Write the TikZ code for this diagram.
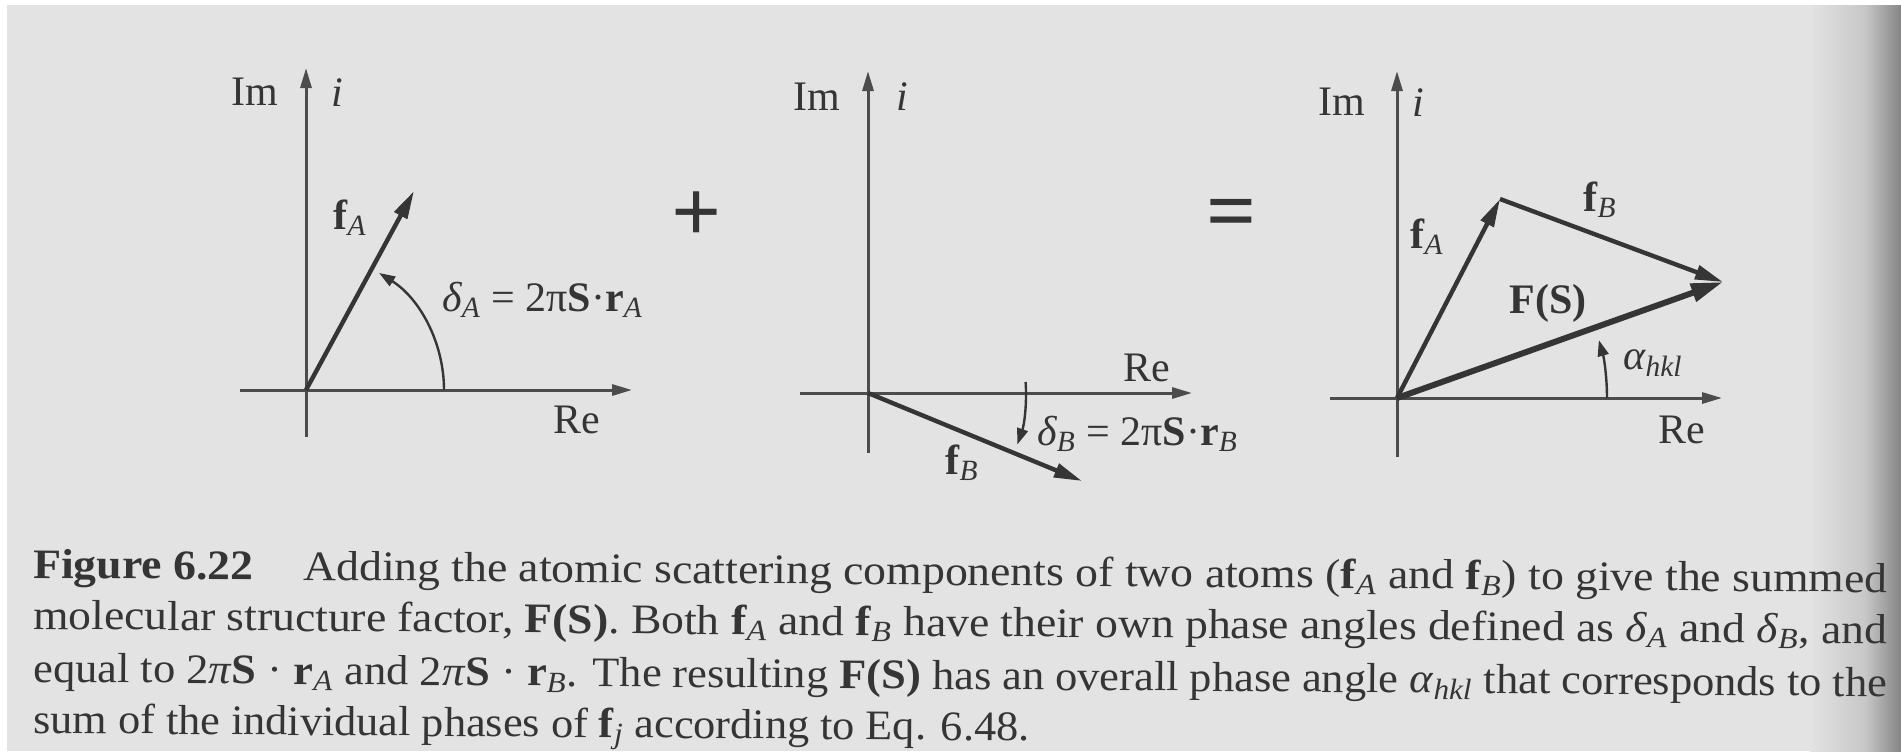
\documentclass[tikz,border=0pt]{standalone}
\usepackage{fontspec}
\setmainfont{Liberation Serif}
\usepackage{graphicx}
\usetikzlibrary{arrows.meta}
\definecolor{bg}{HTML}{E3E3E3}
\definecolor{ink}{HTML}{353535}
\definecolor{axiscol}{HTML}{4C4C4C}
\newcommand\lsub[1]{\textsubscript{\itshape #1}}
\begin{document}
\begin{tikzpicture}[x=0.5pt,y=-0.5pt,
  lab/.style={text=ink, font=\fontsize{21}{25}\selectfont, inner sep=0pt},
  captext/.style={text=ink, font=\fontsize{21}{25}\selectfont, inner sep=0pt, anchor=base west, rotate=-0.45},
  opsym/.style={text=ink, font=\fontsize{44}{48}\selectfont\bfseries, inner sep=0pt},
  axisline/.style={draw=axiscol, line width=1.5pt, -{Triangle[length=10pt,width=5.5pt]}},
  vec/.style={draw=ink, line width=2.2pt, -{Triangle[length=14pt,width=7pt]}},
  bigvec/.style={draw=ink, line width=3pt, -{Triangle[length=16pt,width=9pt]}},
  anglearc/.style={draw=ink, line width=1.2pt, -{Triangle[length=8pt,width=5.5pt]}},
]
\useasboundingbox (0,0) rectangle (1901,751);
% page background
\fill[bg] (0,0) rectangle (1901,751);
\shade[left color=bg, right color=black!22] (1810,0) rectangle (1866,751);
\shade[left color=black!22, right color=black!48] (1865,0) rectangle (1901,751);
\fill[white] (0,0) rectangle (1901,5);
\fill[white] (0,0) rectangle (7,751);

% ---------- panel 1 ----------
\coordinate (O1) at (306,390);
\coordinate (v1b) at (306,437);
\coordinate (v1t) at (306,68);
\coordinate (h1l) at (240,390);
\coordinate (h1r) at (632,390);
\coordinate (A1) at (414,191);
\draw[axisline] (v1b) -- (v1t);
\draw[axisline] (h1l) -- (h1r);
\draw[vec] (O1) -- (A1);
\draw[anglearc] ([shift={(0:138)}]O1) arc[start angle=0, end angle=-58, radius=138];
\node[lab] (im1) at (255,92) {Im};
\node[lab] (i1) at (337,93) {\itshape i};
\node[lab] (fa1) at (350,218) {\textbf{f}\lsub{A}};
\node[lab, anchor=west] (da1) at (442,300) {\itshape δ\upshape\lsub{A} = 2π\textbf{S}·\textbf{r}\lsub{A}};
\node[lab] (re1) at (577,420) {Re};

% plus
\node[opsym] (plus) at (697,217) {+};

% ---------- panel 2 ----------
\coordinate (O2) at (868,393);
\coordinate (v2b) at (868,453);
\coordinate (v2t) at (868,71);
\coordinate (h2l) at (800,393);
\coordinate (h2r) at (1192,393);
\coordinate (B2) at (1082,481);
\draw[axisline] (v2b) -- (v2t);
\draw[axisline] (h2l) -- (h2r);
\draw[vec] (O2) -- (B2);
\draw[anglearc] ([shift={(-4:158)}]O2) arc[start angle=-4, end angle=19, radius=158];
\node[lab] (im2) at (817,97) {Im};
\node[lab] (i2) at (902,97) {\itshape i};
\node[lab] (fb2) at (962,463) {\textbf{f}\lsub{B}};
\node[lab, anchor=west] (db2) at (1037,434) {\itshape δ\upshape\lsub{B} = 2π\textbf{S}·\textbf{r}\lsub{B}};
\node[lab] (re2) at (1147,368) {Re};

% equals
\node[opsym] (eq) at (1232,220) {=};

% ---------- panel 3 ----------
\coordinate (O3) at (1397,398);
\coordinate (v3b) at (1397,457);
\coordinate (v3t) at (1397,71);
\coordinate (h3l) at (1330,398);
\coordinate (h3r) at (1722,398);
\coordinate (A3) at (1500,199);
\coordinate (T3) at (1723,282);
\draw[axisline] (v3b) -- (v3t);
\draw[axisline] (h3l) -- (h3r);
\draw[vec] (O3) -- (A3);
\draw[vec] (A3) -- (T3);
\draw[bigvec] (O3) -- (T3);
\draw[anglearc] ([shift={(0:210)}]O3) arc[start angle=0, end angle=-16, radius=210];
\node[lab] (im3) at (1342,102) {Im};
\node[lab] (i3) at (1418,103) {\itshape i};
\node[lab] (fa3) at (1427,237) {\textbf{f}\lsub{A}};
\node[lab] (fb3) at (1600,200) {\textbf{f}\lsub{B}};
\node[lab] (fs3) at (1548,303) {\textbf{F(S)}};
\node[lab] (al3) at (1653,363) {\itshape α\lsub{hkl}};
\node[lab] (re3) at (1682,430) {Re};

% ---------- caption ----------
\node[captext] (c1) at (33,578) {\resizebox{927pt}{\height}{\textbf{Figure 6.22}\hspace{1.1em}Adding the atomic scattering components of two atoms (\textbf{f}\lsub{A} and \textbf{f}\lsub{B}) to give the summed}};
\node[captext] (c2) at (33,629) {\resizebox{927pt}{\height}{molecular structure factor, \textbf{F(S)}. Both \textbf{f}\lsub{A} and \textbf{f}\lsub{B} have their own phase angles defined as \textit{δ}\lsub{A} and \textit{δ}\lsub{B}, and}};
\node[captext] (c3) at (33,682) {\resizebox{927pt}{\height}{equal to 2\textit{π}\textbf{S} · \textbf{r}\lsub{A} and 2\textit{π}\textbf{S} · \textbf{r}\lsub{B}. The resulting \textbf{F(S)} has an overall phase angle \textit{α}\lsub{hkl} that corresponds to the}};
\node[captext] (c4) at (33,733) {\resizebox{498pt}{\height}{sum of the individual phases of \textbf{f}\lsub{j} according to Eq. 6.48.}};
\end{tikzpicture}
\end{document}
